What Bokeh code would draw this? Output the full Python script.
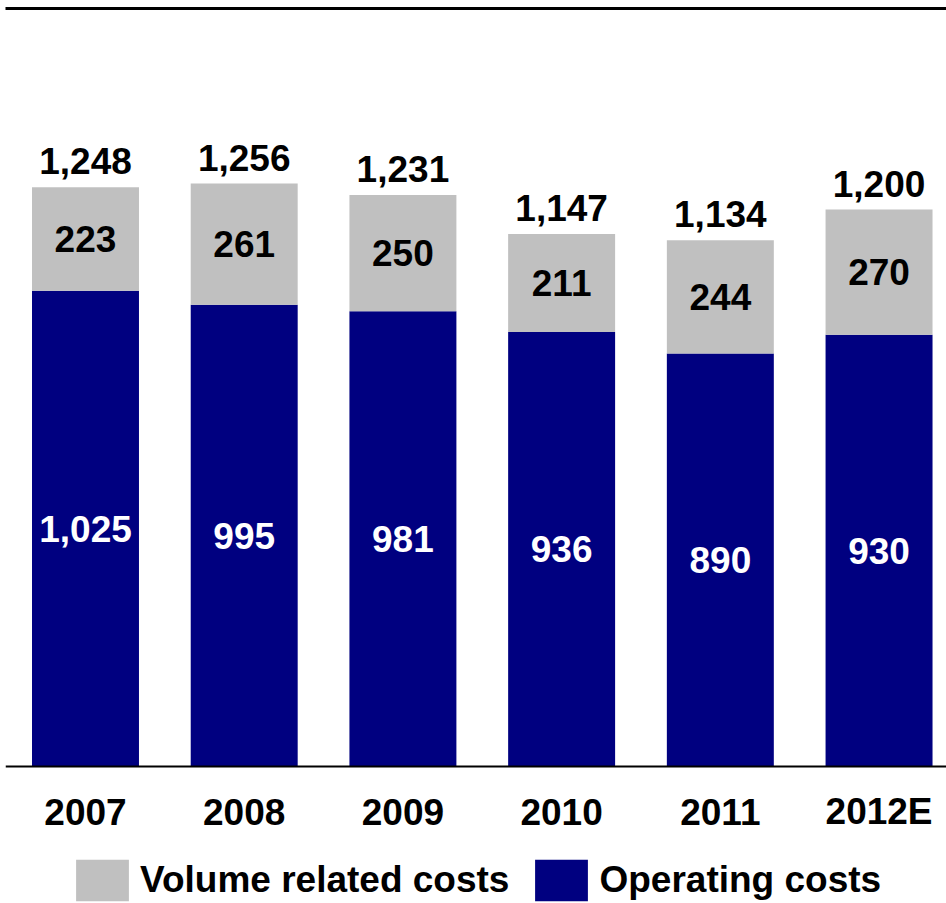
from bokeh.plotting import figure
from bokeh.models import (ColumnDataSource, Range1d, LinearAxis, FixedTicker,
                          Legend, LegendItem, Span)
from bokeh.core.properties import value
from bokeh.embed import file_html
from bokeh.resources import INLINE

# ---- data ----
years = ["2007", "2008", "2009", "2010", "2011", "2012E"]
operating_costs = [1025, 995, 981, 936, 890, 930]
volume_costs = [223, 261, 250, 211, 244, 270]

NAVY = "#000080"
GREY = "#C0C0C0"
FONT_NAME = "Liberation Sans"
FONT = value(FONT_NAME)
FS = "37px"

idx = list(range(len(years)))
totals = [o + v for o, v in zip(operating_costs, volume_costs)]
src = ColumnDataSource(dict(
    x=idx,
    year=years,
    zero=[0] * len(years),
    op=operating_costs,
    vol=volume_costs,
    op_mid=[o / 2 for o in operating_costs],
    vol_mid=[o + v / 2 for o, v in zip(operating_costs, volume_costs)],
    total=totals,
    op_lbl=[f"{o:,}" for o in operating_costs],
    vol_lbl=[f"{v:,}" for v in volume_costs],
    tot_lbl=[f"{t:,}" for t in totals],
))

# plot area spans the chart plus the category/legend strip below the baseline
p = figure(width=946, height=903,
           x_range=Range1d(-0.504, 5.425), y_range=Range1d(-295, 1633),
           x_axis_location=None, y_axis_location=None,
           toolbar_location=None, output_backend="svg",
           min_border_left=5, min_border_right=0, min_border_top=8,
           min_border_bottom=0)
p.outline_line_color = None
p.xgrid.visible = False
p.ygrid.visible = False

r_op = p.vbar(x="x", top="op", bottom=0, width=0.674, source=src,
              fill_color=NAVY, line_color=None)
r_vol = p.vbar(x="x", top="total", bottom="op", width=0.674, source=src,
               fill_color=GREY, line_color=None)

# baseline
p.add_layout(Span(location=0, dimension="width", line_color="black",
                  line_width=2))

p.text(x="x", y="op_mid", text="op_lbl", source=src, text_color="white",
       text_font=FONT, text_font_style="bold", text_font_size=FS,
       text_align="center", text_baseline="middle")
p.text(x="x", y="vol_mid", text="vol_lbl", source=src, text_color="black",
       text_font=FONT, text_font_style="bold", text_font_size=FS,
       text_align="center", text_baseline="middle")
p.text(x="x", y="total", text="tot_lbl", source=src, text_color="black",
       text_font=FONT, text_font_style="bold", text_font_size=FS,
       text_align="center", text_baseline="alphabetic", y_offset=-26)

# category labels under the baseline
p.text(x="x", y="zero", text="year", source=src, text_color="black",
       text_font=FONT, text_font_style="bold", text_font_size=FS,
       text_align="center", text_baseline="middle", y_offset=45)

# top rule
top_ax = LinearAxis(ticker=FixedTicker(ticks=[]), axis_line_width=3,
                    axis_line_color="black", major_tick_out=0, major_tick_in=0,
                    minor_tick_out=0, minor_tick_in=0, major_label_standoff=0)
p.add_layout(top_ax, "above")

legend = Legend(items=[LegendItem(label="Volume related costs", renderers=[r_vol]),
                       LegendItem(label="Operating costs", renderers=[r_op])],
                orientation="horizontal", location=(64, -3),
                glyph_width=66, glyph_height=52, label_height=42,
                label_standoff=5, spacing=19, padding=0, margin=0,
                border_line_color=None, background_fill_alpha=0,
                label_text_font=FONT_NAME, label_text_font_style="bold",
                label_text_font_size=FS, label_text_color="black")
p.add_layout(legend)

open("out.html", "w").write(file_html(p, INLINE))
